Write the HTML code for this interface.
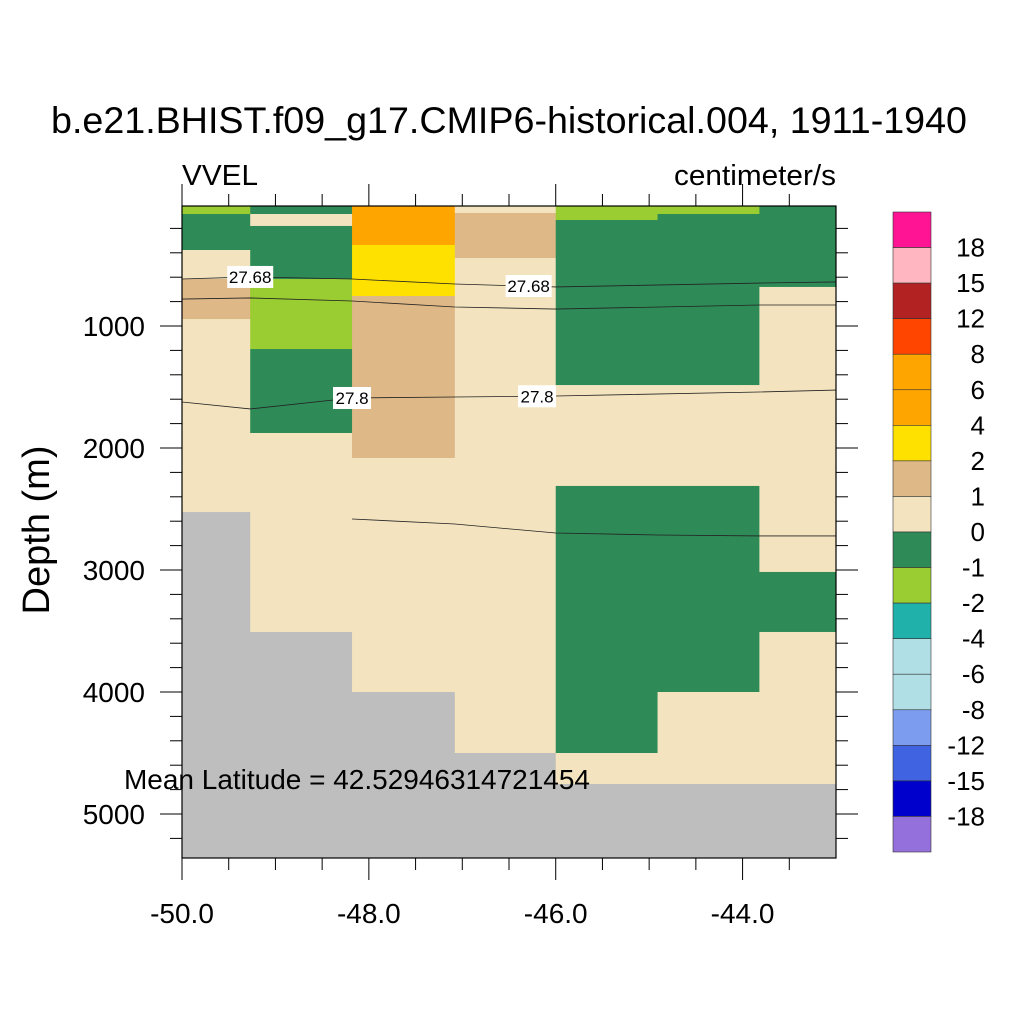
<!DOCTYPE html>
<html><head><meta charset="utf-8"><style>body{margin:0;background:#fff}svg{font-family:"Liberation Sans",sans-serif}</style></head>
<body>
<svg id="c" width="1024" height="1024" xmlns="http://www.w3.org/2000/svg">
<text x="509" y="133" font-size="37" text-anchor="middle" textLength="916" lengthAdjust="spacingAndGlyphs">b.e21.BHIST.f09_g17.CMIP6-historical.004, 1911-1940</text>
<text x="182" y="185" font-size="29" textLength="76" lengthAdjust="spacingAndGlyphs">VVEL</text>
<text x="836" y="185" font-size="29" text-anchor="end" textLength="162" lengthAdjust="spacingAndGlyphs">centimeter/s</text>
<text transform="translate(49,530) rotate(-90)" font-size="38" text-anchor="middle">Depth (m)</text>
<g id="cells"></g><g id="lines"></g><g id="axes"></g><g id="cbar"></g>
<text x="124" y="789" font-size="28" textLength="466" lengthAdjust="spacingAndGlyphs">Mean Latitude = 42.52946314721454</text>
</svg>
<script>
const colEdges=[-50,-49.27,-48.18,-47.08,-46,-44.91,-43.82,-43];
// cells per column: [topDepth, bottomDepth, level] ; level -1 = missing (gray)
const col1=[[16,82,10],[82,377,9],[377,615,8],[615,943,7],[943,2525,8],[2525,5400,-1]];
const col2=[[16,82,9],[82,180,8],[180,615,9],[615,1189,10],[1189,1877,9],[1877,3508,8],[3508,5400,-1]];
const col3=[[16,336,4],[336,754,6],[754,2082,7],[2082,4000,8],[4000,5400,-1]];
const col4=[[16,74,8],[74,443,7],[443,4500,8],[4500,5400,-1]];
const col5=[[16,131,10],[131,1484,9],[1484,2311,8],[2311,4500,9],[4500,4754,8],[4754,5400,-1]];
const col6=[[16,82,10],[82,1484,9],[1484,2311,8],[2311,4000,9],[4000,4754,8],[4754,5400,-1]];
const col7=[[16,680,9],[680,3016,8],[3016,3508,9],[3508,4754,8],[4754,5400,-1]];
const columns=[col1,col2,col3,col4,col5,col6,col7];
const lineLon=[-50,-49.27,-48.18,-47.08,-46,-43.82,-43];
const line1=[615,598,615,656,680,648,639];
const line2=[779,770,795,844,861,828,828];
const line3=[1623,1680,1590,1582,1574,1541,1525];
const line4Lon=[-48.18,-47.08,-46,-44.91,-43.82,-43];
const line4=[2582,2623,2697,2713,2721,2721];
const xTicks=[-50,-48,-46,-44];
const xTickLabels=["-50.0","-48.0","-46.0","-44.0"];
const yTicks=[1000,2000,3000,4000,5000];
const cbColors=["#FF1493","#FFB6C1","#B22222","#FF4500","#FFA500","#FFA500","#FFE100","#DEB887","#F3E4BF","#2E8B57","#9ACD32","#20B2AA","#B0E0E6","#B0E0E6","#7B9CEF","#4064E1","#0000CD","#9370DB"];
const cbLabels=["18","15","12","8","6","4","2","1","0","-1","-2","-4","-6","-8","-12","-15","-18"];
const NS="http://www.w3.org/2000/svg";
const X0=182,X1=836,Y0=206,Y1=858;
const xs=l=>182+(l+50)*93.43;
const ys=d=>204+d*0.122;
function mk(t,a,p){const e=document.createElementNS(NS,t);for(const k in a)e.setAttribute(k,a[k]);p.appendChild(e);return e;}
const cells=document.getElementById('cells');
columns.forEach((col,i)=>col.forEach(c=>{
 const y0=Math.max(ys(c[0]),Y0),y1=Math.min(ys(c[1]),Y1);
 const r=mk('rect',{x:xs(colEdges[i]),y:y0,width:xs(colEdges[i+1])-xs(colEdges[i])+0.5,height:y1-y0+0.5,fill:c[2]<0?'#BEBEBE':cbColors[c[2]]},cells);
 
 
}));
const lines=document.getElementById('lines');
function drawLine(lons,ds,name){
 const p=mk('polyline',{points:lons.map((l,i)=>xs(l)+','+ys(ds[i])).join(' '),fill:'none',stroke:'#222',"stroke-width":0.8},lines);
 
 
}
drawLine(lineLon,line1,'density-contour-27-68');
drawLine(lineLon,line2,'density-contour-27-74');
drawLine(lineLon,line3,'density-contour-27-8');
drawLine(line4Lon,line4,'density-contour-27-86');
function lab(lon,d,t,w){
 const g=mk('g',{},lines);
 
 
 const x=xs(lon),y=ys(d);
 mk('rect',{x:x-w/2,y:y-11,width:w,height:22,fill:'#fff'},g);
 const tx=mk('text',{x:x,y:y+6,"font-size":17,"text-anchor":"middle"},g);tx.textContent=t;
}
lab(-49.27,line1[1],'27.68',46);
lab(-46.29,672,'27.68',46);
lab(-48.18,line3[2],'27.8',38);
lab(-46.2,1576,'27.8',38);
const ax=document.getElementById('axes');
const fr=mk('rect',{x:X0,y:Y0,width:X1-X0,height:Y1-Y0,fill:'none',stroke:'#000',"stroke-width":1.2},ax);


for(let l=-50;l<=-43.001;l+=0.5){
 const x=xs(l),maj=xTicks.some(t=>Math.abs(t-l)<1e-6),h=maj?22:12;
 mk('line',{x1:x,x2:x,y1:Y1,y2:Y1+h,stroke:'#000'},ax);
 mk('line',{x1:x,x2:x,y1:Y0,y2:Y0-h,stroke:'#000'},ax);
}
xTicks.forEach((t,i)=>{const e=mk('text',{x:xs(t),y:923,"font-size":28,"text-anchor":"middle"},ax);e.textContent=xTickLabels[i];
 
 });
for(let d=200;d<=5361;d+=200){
 const y=ys(d),maj=yTicks.includes(d),h=maj?22:12;
 mk('line',{x1:X0,x2:X0-h,y1:y,y2:y,stroke:'#000'},ax);
 mk('line',{x1:X1,x2:X1+h,y1:y,y2:y,stroke:'#000'},ax);
}
yTicks.forEach(t=>{const e=mk('text',{x:145,y:ys(t)+10,"font-size":28,"text-anchor":"end"},ax);e.textContent=t;
 
 });
const cb=document.getElementById('cbar');
const bh=(852-212)/cbColors.length;
cbColors.forEach((c,i)=>{const r=mk('rect',{x:893,y:212+i*bh,width:38,height:bh,fill:c,stroke:'#333',"stroke-width":0.6},cb);
 
 });
cbLabels.forEach((t,i)=>{const e=mk('text',{x:985,y:212+(i+1)*bh+9,"font-size":26,"text-anchor":"end"},cb);e.textContent=t;
 
 });
</script>
</body></html>
